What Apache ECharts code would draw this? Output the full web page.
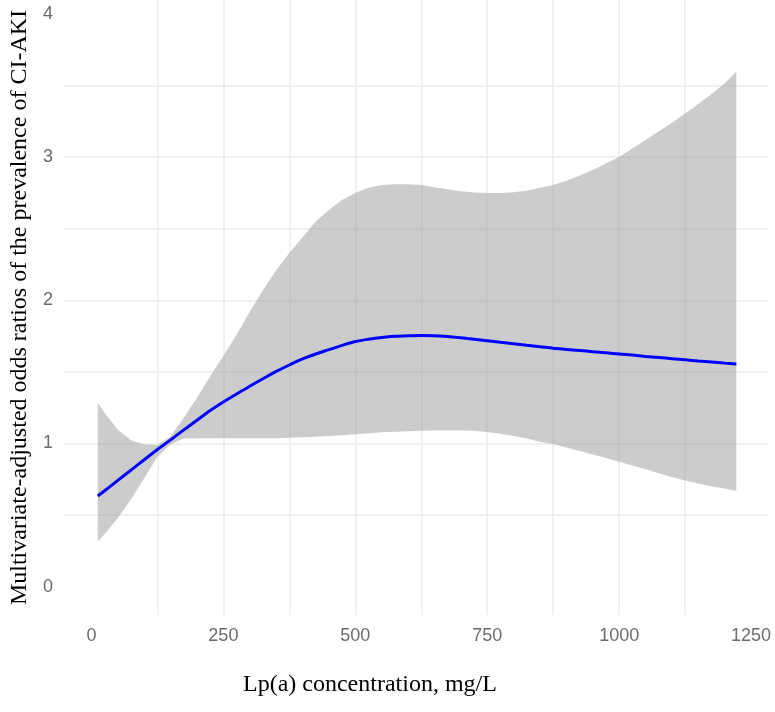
<!DOCTYPE html>
<html>
<head>
<meta charset="utf-8">
<script src="https://cdn.jsdelivr.net/npm/echarts@6.0.0/dist/echarts.min.js"></script>
<style>
  html, body { margin: 0; padding: 0; background: #fff; }
  #chart { width: 775px; height: 712px; }
</style>
</head>
<body>
<div id="chart"></div>
<script>
// Lp(a) concentration (mg/L)
const lpa = [12, 25, 50, 75, 100, 125, 150, 175, 200, 225, 250, 275, 300, 325, 350, 375, 400, 425, 450, 475,
  500, 525, 550, 575, 600, 625, 650, 675, 700, 725, 750, 775, 800, 825, 850, 875, 900, 925, 950, 975,
  1000, 1025, 1050, 1075, 1100, 1125, 1150, 1175, 1200, 1222];

// fitted odds ratio
const fitOR = [0.633, 0.670, 0.742, 0.814, 0.886, 0.958, 1.025, 1.095, 1.162, 1.230, 1.290, 1.345, 1.400, 1.452, 1.503, 1.548, 1.590, 1.625, 1.655, 1.685,
  1.712, 1.728, 1.740, 1.748, 1.752, 1.754, 1.753, 1.747, 1.738, 1.728, 1.718, 1.707, 1.697, 1.686, 1.676, 1.665, 1.657, 1.649, 1.641, 1.633,
  1.625, 1.617, 1.608, 1.600, 1.592, 1.584, 1.576, 1.569, 1.561, 1.555];

// confidence band
const upperCI = [1.285, 1.212, 1.095, 1.022, 0.992, 0.990, 1.050, 1.180, 1.320, 1.470, 1.610, 1.760, 1.920, 2.070, 2.210, 2.330, 2.440, 2.550, 2.630, 2.700,
  2.750, 2.785, 2.805, 2.810, 2.810, 2.805, 2.790, 2.775, 2.762, 2.752, 2.750, 2.750, 2.755, 2.765, 2.785, 2.805, 2.835, 2.870, 2.910, 2.955,
  3.000, 3.060, 3.120, 3.180, 3.240, 3.305, 3.370, 3.440, 3.515, 3.596];
const lowerCI = [0.314, 0.368, 0.480, 0.610, 0.757, 0.908, 0.995, 1.035, 1.037, 1.036, 1.036, 1.036, 1.036, 1.036, 1.037, 1.040, 1.043, 1.047, 1.052, 1.058,
  1.064, 1.071, 1.078, 1.082, 1.085, 1.088, 1.090, 1.090, 1.090, 1.089, 1.080, 1.068, 1.052, 1.034, 1.012, 0.996, 0.972, 0.948, 0.923, 0.898,
  0.873, 0.846, 0.820, 0.792, 0.765, 0.742, 0.720, 0.700, 0.685, 0.668];

const xTicks = [0, 250, 500, 750, 1000, 1250];
const xGrid = [0, 125, 250, 375, 500, 625, 750, 875, 1000, 1125, 1250];
const yTicks = [0, 1, 2, 3, 4];
const yGrid = [0, 0.5, 1, 1.5, 2, 2.5, 3, 3.5, 4];

const chart = echarts.init(document.getElementById('chart'));

const pairs = (vals) => lpa.map((x, i) => [x, vals[i]]);

// ribbon drawn as one polygon: upper edge left->right, lower edge right->left
const renderBand = (params, api) => {
  const pts = [];
  for (let i = 0; i < lpa.length; i++) pts.push(api.coord([lpa[i], upperCI[i]]));
  for (let i = lpa.length - 1; i >= 0; i--) pts.push(api.coord([lpa[i], lowerCI[i]]));
  return {
    type: 'polygon',
    shape: { points: pts },
    style: { fill: '#999999', opacity: 0.5 },
    silent: true
  };
};

const option = {
  animation: false,
  backgroundColor: '#ffffff',
  title: {
    text: 'Lp(a) concentration, mg/L',
    left: 238,
    top: 668,
    textStyle: { fontFamily: 'Liberation Serif', fontSize: 24, fontWeight: 'normal', color: '#000' }
  },
  grid: { left: 63, right: 7, top: 0, bottom: 97 },
  xAxis: {
    type: 'value',
    min: -52,
    max: 1282,
    axisLine: { show: false },
    axisTick: { show: false, customValues: xGrid },
    axisLabel: {
      customValues: xTicks,
      formatter: (v) => String(v),
      margin: 12,
      fontFamily: 'Liberation Sans',
      fontSize: 18,
      color: '#6b6b6b'
    },
    splitLine: { show: true, showMinLine: false, showMaxLine: false, lineStyle: { color: '#ebebeb', width: 1.5 } }
  },
  yAxis: {
    type: 'value',
    min: -0.198,
    max: 4.097,
    name: 'Multivariate-adjusted odds ratios of the prevalence of CI-AKI',
    nameLocation: 'middle',
    nameGap: 32,
    nameTextStyle: { fontFamily: 'Liberation Serif', fontSize: 24, color: '#000' },
    axisLine: { show: false },
    axisTick: { show: false, customValues: yGrid },
    axisLabel: {
      customValues: yTicks,
      formatter: (v) => String(v),
      margin: 11,
      fontFamily: 'Liberation Sans',
      fontSize: 18,
      color: '#6b6b6b'
    },
    splitLine: { show: true, showMinLine: false, showMaxLine: false, lineStyle: { color: '#ebebeb', width: 1.5 } }
  },
  series: [
    {
      name: 'CI',
      type: 'custom',
      renderItem: renderBand,
      data: [0],
      clip: true,
      silent: true,
      z: 2
    },
    {
      name: 'fit',
      type: 'line',
      data: pairs(fitOR),
      symbol: 'none',
      smooth: 0.3,
      lineStyle: { color: '#0000ff', width: 3 },
      z: 5
    }
  ]
};

chart.setOption(option);
</script>
</body>
</html>
